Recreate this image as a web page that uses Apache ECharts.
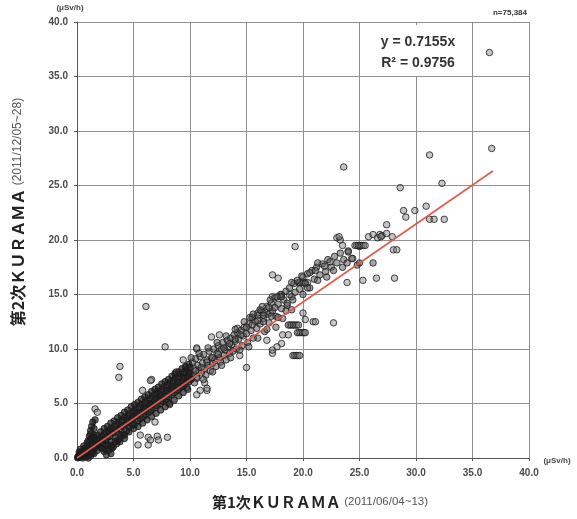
<!DOCTYPE html>
<html>
<head>
<meta charset="utf-8">
<script src="https://cdn.jsdelivr.net/npm/echarts/dist/echarts.min.js"></script>
<style>
html,body{margin:0;padding:0;background:#fff;}
#c{width:577px;height:519px;}
</style>
</head>
<body>
<div id="c"></div>
<script>
// Axis ticks
var xTicks = [0, 5, 10, 15, 20, 25, 30, 35, 40];
var yTicks = [0, 5, 10, 15, 20, 25, 30, 35, 40];

// Dense band (x 0-10)
var denseBand = [
[0.05,0.02],[0.1,0.15],[0.15,0.05],[0.2,0.3],[0.25,0.1],[0.3,0.4],[0.35,0.2],[0.4,0.5],[0.45,0.15],[0.5,0.6],
[0.55,0.3],[0.6,0.7],[0.65,0.4],[0.7,0.9],[0.75,0.35],[0.8,0.8],[0.85,0.55],[0.9,1.1],[0.95,0.5],[1.0,0.9],
[1.0,0.3],[0.5,0.0],[0.8,0.1],[1.2,0.2],[1.5,0.4],
[1.0,1.6],[1.1,2.0],[1.2,2.5],[1.3,2.9],[1.4,3.3],[1.2,2.2],[1.5,2.7],[1.3,1.8],[1.6,3.5],[1.5,2.1],
[1.1,0.7],[1.2,1.1],[1.3,0.6],[1.4,1.3],[1.5,0.9],[1.6,1.5],[1.7,1.0],[1.8,1.6],[1.9,1.2],[2.0,1.8],
[2.0,1.0],[2.1,1.4],[2.2,2.0],[2.3,1.3],[2.4,2.2],[2.5,1.6],[2.5,0.8],[2.6,2.4],[2.7,1.9],[2.8,1.2],
[2.8,2.5],[2.9,2.0],[3.0,2.7],[3.0,1.5],[3.1,0.9],[3.2,2.3],[3.3,2.9],[3.4,1.9],[3.5,3.1],[3.5,2.4],
[3.6,1.6],[3.7,3.3],[3.8,2.7],[3.9,2.1],[4.0,3.5],[4.0,2.9],[4.1,2.2],[4.2,3.7],[4.3,3.1],[4.4,2.5],
[4.5,3.9],[4.5,3.3],[4.6,2.8],[4.7,4.1],[4.8,3.5],[4.9,3.0],[5.0,4.3],[5.0,3.7],[5.1,3.1],[5.2,4.5],
[5.3,3.9],[5.4,3.4],[5.5,4.7],[5.5,4.1],[5.6,3.6],[5.7,4.9],[5.8,4.3],[5.9,3.8],[6.0,5.1],[6.0,4.5],
[6.1,4.0],[6.2,5.3],[6.3,4.7],[6.4,4.2],[6.5,5.5],[6.5,4.9],[6.6,4.4],[6.7,5.7],[6.8,5.1],[6.9,4.6],
[7.0,5.9],[7.0,5.3],[7.1,4.8],[7.2,6.1],[7.3,5.5],[7.4,5.0],[7.5,6.3],[7.5,5.7],[7.6,5.2],[7.7,6.5],
[7.8,5.9],[7.9,5.4],[8.0,6.7],[8.0,6.1],[8.1,5.6],[8.2,6.9],[8.3,6.3],[8.4,5.8],[8.5,7.1],[8.5,6.5],
[8.6,6.0],[8.7,7.3],[8.8,6.7],[8.9,6.2],[9.0,7.5],[9.0,6.9],[9.1,6.4],[9.2,7.7],[9.3,7.1],[9.4,6.6],
[9.5,7.9],[9.5,7.3],[9.6,6.8],[9.7,8.1],[9.8,7.5],[9.9,7.0],[10.0,8.3],[10.0,7.7],[10.1,7.2],
[2.4,0.6],[2.8,0.7],[3.2,1.0],[3.5,1.3],[3.0,0.4],[2.6,0.3],[3.8,1.5],[4.2,1.8],
[0.3,0.8],[0.6,1.1],[0.9,1.4],[1.2,1.6],[1.5,1.9],[1.8,2.1],[2.1,2.4],[2.4,2.7],[2.7,2.9],[3.0,3.2],
[3.3,3.4],[3.6,3.7],[3.9,3.9],[4.2,4.2],[4.5,4.4],[4.8,4.7],[5.1,4.9],[5.4,5.1],[5.7,5.4],[6.0,5.6],
[6.3,5.8],[6.6,6.1],[6.9,6.3],[7.2,6.5],[7.5,6.8],[7.8,7.0],[8.1,7.2],[8.4,7.5],[8.7,7.7],[9.0,7.9],
[9.3,8.2],[9.6,8.4],[9.9,8.6],
[1.0,0.0],[1.4,0.5],[1.8,0.7],[2.2,0.9],[2.6,1.2],[3.0,1.1],[3.4,1.5],[3.8,1.8],[4.2,2.1],[4.6,2.4],
[5.0,2.7],[5.4,2.9],[5.8,3.2],[6.2,3.5],[6.6,3.8],[7.0,4.1],[7.4,4.4],[7.8,4.7],[8.2,5.0],[8.6,5.3],
[9.0,5.7],[9.4,6.0],[9.8,6.3],
[0.2,0.55],[0.7,0.6],[1.7,1.3],[2.3,1.7],[2.9,2.3],[3.4,2.6],[3.9,3.0],[4.4,3.5],[4.9,3.8],[5.4,4.2],
[5.9,4.6],[6.4,5.0],[6.9,5.4],[7.4,5.8],[7.9,6.2],[8.4,6.6],[8.9,7.0],[9.4,7.4],[9.9,7.8]
];

// Moderate band (x 10-24)
var midBand = [
[10.2,8.8],[10.3,7.6],[10.4,8.2],[10.5,9.1],[10.6,7.4],[10.7,8.5],[10.8,8.0],[10.9,9.3],[11.0,7.8],[11.1,8.7],
[11.2,9.5],[11.3,8.2],[11.4,7.6],[11.5,9.0],[11.6,8.5],[11.7,9.8],[11.8,8.0],[11.9,9.2],[12.0,8.7],[12.1,10.0],
[12.2,9.0],[12.3,8.4],[12.4,9.6],[12.5,10.3],[12.6,9.2],[12.7,8.8],[12.8,10.0],[12.9,10.6],[13.0,9.4],[13.1,9.9],
[13.2,9.0],[13.3,10.8],[13.4,10.2],[13.5,9.6],[13.6,11.0],[13.7,10.4],[13.8,9.8],[13.9,11.3],[14.0,10.7],[14.1,10.0],
[14.2,11.5],[14.3,10.9],[14.5,11.7],[14.6,10.3],[14.7,11.2],[14.8,12.0],[15.0,11.4],[15.1,10.6],[15.2,12.3],[15.4,11.7],
[15.5,12.9],[15.6,11.0],[15.8,12.5],[15.9,11.9],[16.0,13.1],[16.2,12.3],[16.3,13.5],[16.5,12.8],[16.6,11.6],[16.8,13.9],
[16.9,13.2],[17.0,12.4],[17.2,14.2],[17.3,13.5],[17.5,14.7],[17.6,13.0],[17.8,14.1],[18.0,15.0],[18.1,13.7],[18.3,14.5],
[18.5,15.3],[18.6,14.0],[18.8,15.6],[19.0,14.8],[19.2,16.0],[19.3,15.2],[19.5,16.3],[19.7,15.5],[19.9,16.7],[20.0,15.0],
[20.2,16.0],[20.4,16.9],[20.6,15.6],[20.8,17.2],[21.0,16.4],[21.2,17.5],[21.5,16.8],[21.7,17.8],[22.0,17.1],[22.2,18.2],
[22.5,17.5],[22.8,18.5],[23.0,17.9],[23.3,18.8],[23.6,18.2],[24.0,19.0],
[15.3,12.9],[16.0,13.3],[16.5,12.5],[17.5,13.8],[17.8,12.9],[18.6,14.2],[19.1,14.5],[18.1,14.8],[19.0,16.1],
[20.6,17.0],[21.1,17.2],[20.4,15.6],[21.3,16.3],[22.1,16.6],[22.7,17.2],[16.2,13.6],[17.1,14.5],[17.7,14.8],
[21.3,17.9],[21.9,17.6],[22.4,18.0],[23.5,17.5],[23.9,17.9],[24.8,17.7],[25.0,17.9],[24.4,18.3],[24.0,18.9],[26.2,17.9],
[10.1,9.2],[10.4,6.9],[10.8,9.6],[11.2,7.2],[11.6,10.1],[12.0,7.9],[12.4,10.6],[12.8,8.5],[13.2,11.2],[13.6,9.2],
[14.0,11.8],[14.4,9.9],[14.8,12.5],[15.2,10.2],[15.6,13.2],[16.0,11.0],[16.4,13.9],[16.8,11.8],[17.2,13.0],[17.6,12.0],
[18.2,12.8],[18.5,13.5],[19.0,13.6],[10.5,8.0],[11.0,8.3],[11.5,8.8],[12.0,9.2],[12.5,9.5],[13.0,10.1],[13.5,10.5],
[14.0,10.9],[14.5,11.3],[15.0,12.0],[15.5,12.2],[16.0,12.6],[16.5,13.1],[17.0,13.8]
];

// Upper cluster (x 23-28)
var highCluster = [
[23.0,20.2],[23.3,20.0],[23.5,19.5],[23.2,20.3],[25.8,20.3],[26.2,20.5],[26.6,20.2],[26.8,20.5],[27.0,20.4],[27.4,20.6],
[27.4,21.4],[27.9,20.3],[28.0,19.1],[28.3,19.1],[25.0,19.4],[24.3,18.3],[26.9,20.3]
];

// Horizontal streaks
var streaks = [
[24.6,19.5],[24.75,19.5],[24.9,19.5],[25.05,19.5],[25.2,19.5],[25.35,19.5],[25.5,19.5],
[19.6,16.1],[19.75,16.1],[19.9,16.1],[20.05,16.1],[20.2,16.1],[20.4,16.1],
[18.7,12.2],[18.85,12.2],[19.0,12.2],[19.15,12.2],[19.3,12.2],[19.45,12.2],[19.6,12.2],
[19.5,11.5],[19.65,11.5],[19.8,11.5],[19.95,11.5],[20.1,11.5],[20.2,11.5],
[19.1,9.4],[19.25,9.4],[19.4,9.4],[19.55,9.4],[19.7,9.4]
];

// Scattered outliers
var outliers = [
[36.5,37.2],[36.7,28.4],[31.2,27.8],[32.3,25.2],[28.6,24.8],[28.9,22.7],[29.1,22.1],[29.9,22.7],[30.9,23.1],[31.2,21.9],
[31.6,21.9],[32.5,21.9],[23.6,26.7],[19.3,19.4],[28.1,16.5],[26.5,16.5],[25.3,16.3],[23.9,16.1],[17.3,16.8],[17.8,16.5],
[20.0,16.6],[20.0,13.3],[20.2,12.7],[20.9,12.5],[22.7,12.4],[21.1,12.5],[18.2,11.3],[18.7,11.3],[18.1,10.5],[17.3,9.6],
[16.8,10.8],[16.5,13.3],[17.1,13.3],[18.1,15.0],[18.8,15.0],[17.3,14.8],[18.0,14.8],
[6.1,13.9],[7.8,10.2],[10.6,10.0],[11.9,11.1],[12.6,11.3],[14.2,11.9],[15.5,12.9],[15.0,8.3],[14.4,9.4],[17.3,9.9],[17.7,10.2],
[9.4,9.0],[9.6,8.3],[8.7,7.8],[10.6,7.3],[11.3,6.9],[10.9,6.2],[11.5,6.2],[9.7,6.5],[10.6,5.8],[6.6,7.2],
[3.8,8.4],[3.7,7.4],[6.5,7.1],[5.8,6.2],[1.6,4.5],[1.8,4.2],[5.6,2.1],[6.3,1.9],[7.1,2.0],[6.5,1.65],[7.2,1.65],[8.0,1.9],
[5.4,1.2],[6.3,1.2],[6.9,3.3],[8.2,4.9],[8.8,7.9],[7.3,5.8],[8.0,5.1],[6.6,4.9],[6.0,4.4],[5.1,4.1],[10.6,10.1],[11.5,6.4]
];

// Regression line y = 0.7155x
var trendLine = [[0,0],[36.8,26.33]];

var sparsePts = highCluster.concat(streaks, outliers);

var chart = echarts.init(document.getElementById('c'), null, {renderer:'canvas'});
var labelStyle = {color:'#4a4a4a', fontSize:10, fontWeight:'bold', fontFamily:'Liberation Sans, Arial, sans-serif'};
function pts(data, fill, z){
  return {type:'scatter', data:data, symbol:'circle', symbolSize:6.5,
    itemStyle:{color:fill, borderColor:'#1a1a1a', borderWidth:1}, z:z};
}
chart.setOption({
  animation:false,
  backgroundColor:'#fff',
  grid:{left:77, right:48, top:22, bottom:61},
  xAxis:{
    type:'value', min:0, max:40, interval:5,
    axisLine:{show:true, lineStyle:{color:'#555', width:1}},
    axisTick:{show:true, length:3, lineStyle:{color:'#555'}},
    axisLabel:Object.assign({margin:10, formatter:function(v){return v.toFixed(1);}}, labelStyle),
    splitLine:{show:true, lineStyle:{color:'#8f8f8f', width:1}}
  },
  yAxis:{
    type:'value', min:0, max:40, interval:5,
    axisLine:{show:true, lineStyle:{color:'#555', width:1}},
    axisTick:{show:true, length:3, lineStyle:{color:'#555'}},
    axisLabel:Object.assign({margin:9, formatter:function(v){return v.toFixed(1);}}, labelStyle),
    splitLine:{show:true, lineStyle:{color:'#8f8f8f', width:1}}
  },
  series:[
    pts(sparsePts, 'rgba(125,125,125,0.55)', 2),
    pts(midBand, 'rgba(85,85,85,0.65)', 2),
    pts(denseBand, 'rgba(30,30,30,0.85)', 2),
    {
      type:'line', data:trendLine, showSymbol:false, symbol:'none',
      lineStyle:{color:'#e05a4c', width:1.6}, z:3
    }
  ],
  graphic:[
    {type:'rect', shape:{x:366, y:25, width:106, height:51}, style:{fill:'#fff'}, z:10},
    {type:'text', x:418, y:42, z:11, style:{text:'y = 0.7155x', align:'center', verticalAlign:'middle', fill:'#333', font:'bold 14px "Liberation Sans", Arial, sans-serif'}},
    {type:'text', x:418, y:63, z:11, style:{text:'R² = 0.9756', align:'center', verticalAlign:'middle', fill:'#333', font:'bold 14px "Liberation Sans", Arial, sans-serif'}},
    {type:'text', x:527, y:13, z:11, style:{text:'n=75,384', align:'right', verticalAlign:'middle', fill:'#333', font:'bold 8px "Liberation Sans", Arial, sans-serif'}},
    {type:'text', x:70, y:8, z:11, style:{text:'(μSv/h)', align:'center', verticalAlign:'middle', fill:'#444', font:'bold 8px "Liberation Sans", Arial, sans-serif'}},
    {type:'text', x:557, y:461, z:11, style:{text:'(μSv/h)', align:'center', verticalAlign:'middle', fill:'#444', font:'bold 8px "Liberation Sans", Arial, sans-serif'}},
    {type:'text', x:320, y:502, z:11, style:{
      text:'{a|第1次ＫＵＲＡＭＡ} {b|(2011/06/04~13)}', align:'center', verticalAlign:'middle',
      rich:{a:{fontSize:15, fontWeight:'bold', fill:'#222', fontFamily:'"Noto Sans CJK JP", sans-serif'},
            b:{fontSize:11.5, fill:'#555', fontFamily:'"Liberation Sans", Arial, sans-serif'}}}},
    {type:'text', x:18, y:212, rotation:Math.PI/2, z:11, style:{
      text:'{a|第2次ＫＵＲＡＭＡ} {b|(2011/12/05~28)}', align:'center', verticalAlign:'middle',
      rich:{a:{fontSize:16, fontWeight:'bold', fill:'#222', fontFamily:'"Noto Sans CJK JP", sans-serif'},
            b:{fontSize:12, fill:'#555', fontFamily:'"Liberation Sans", Arial, sans-serif'}}}}
  ]
});
</script>
</body>
</html>
